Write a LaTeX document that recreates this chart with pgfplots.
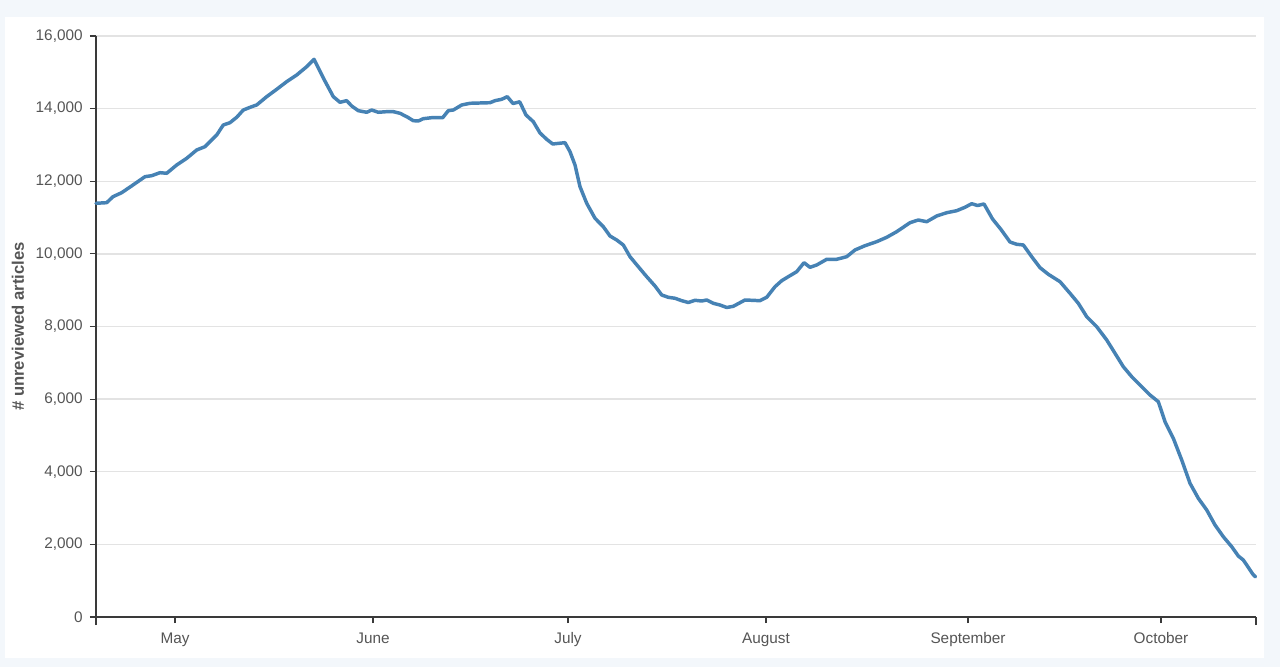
\documentclass[border=0pt]{standalone}
\usepackage{pgfplots}
\pgfplotsset{compat=1.18}
\usepackage{fontspec}
\setmainfont{Liberation Sans}
\definecolor{outerbg}{HTML}{F3F7FB}
\definecolor{linec}{HTML}{4682B4}
\definecolor{axisc}{HTML}{3A3A3A}
\definecolor{textc}{HTML}{555555}
\definecolor{gridc}{HTML}{E3E3E3}
\pgfplotstableread{
x y
96 11393
106.7 11410
113 11575
121.7 11685
133 11897
145 12126
151.7 12153
160 12236
166.7 12219
176.7 12448
186.7 12632
196.7 12861
205 12952
210 13089
216.7 13274
223.3 13549
230 13613
236.7 13761
243.3 13962
251.7 14053
256.7 14100
266.7 14329
276.7 14532
286.7 14742
296.7 14926
306.7 15155
314 15358
323.3 14844
333.3 14329
340 14174
346.7 14219
351.7 14072
358.3 13943
366.7 13899
371.7 13962
378.3 13899
386.7 13916
393.3 13916
400 13871
406.7 13778
413.3 13668
418.3 13659
423.3 13723
431.7 13750
442.7 13750
448.3 13943
453.3 13962
461.7 14100
470 14147
480 14155
490 14163
495 14219
501.7 14257
507.3 14329
513 14141
519.7 14188
526 13825
533.3 13640
540 13329
546.7 13155
552.7 13026
565 13062
570 12814
575 12448
580 11850
586.7 11393
595 10980
603.3 10749
610 10492
616.7 10382
623.3 10245
630 9922
638.3 9647
646.7 9372
655 9115
661.7 8868
668.3 8804
675 8777
681.7 8711
688.3 8661
695 8722
701.7 8702
706.7 8730
713.3 8639
720 8592
726.7 8523
733.3 8556
745 8730
760 8711
766.7 8804
775 9096
781.7 9261
788.3 9372
796.7 9509
804 9757
810 9630
816.7 9694
826.7 9851
836.7 9851
846.7 9922
855 10107
865 10225
876.7 10336
886.7 10456
896.7 10611
910 10859
918.3 10933
926.7 10886
936.7 11043
946.7 11134
956.7 11189
965 11283
971.7 11382
977.5 11332
984 11374
992.5 10961
1001 10671
1010 10327
1016.7 10264
1023.3 10245
1031.7 9922
1040 9620
1048.3 9438
1060 9234
1070 8914
1078.3 8639
1086.7 8270
1096.7 7995
1106.7 7628
1115 7262
1123.3 6893
1131.7 6618
1141.7 6342
1150 6114
1158.3 5929
1165 5378
1173.3 4921
1181.7 4324
1190 3682
1198.3 3269
1206.7 2947
1215 2534
1223.3 2211
1231.7 1936
1238.3 1680
1243.3 1570
1252.7 1184
1255.5 1102
}\datatable
\begin{document}
\begin{tikzpicture}
\path[use as bounding box, fill=outerbg] (-72pt,-37.5pt) rectangle (888pt,462.75pt);
\fill[white] (-68.25pt,-30.75pt) rectangle (876pt,450pt);
\begin{axis}[
  scale only axis,
  width=870pt, height=435.75pt,
  xmin=96, xmax=1256, ymin=0, ymax=16000,
  axis lines*=left,
  axis line style={axisc, line width=1.5pt},
  xtick={175,373,568,766,968,1161},
  xticklabels={May,June,July,August,September,October},
  extra x ticks={96,1256},
  extra x tick labels={},
  extra x tick style={major tick length=6pt},
  ytick={0,2000,...,16000},
  scaled y ticks=false,
  ymajorgrids,
  grid style={gridc, line width=1.1pt},
  tick align=outside,
  major tick length=4.5pt,
  tick style={axisc, line width=0.9pt},
  ticklabel style={font=\fontsize{11.5pt}{13pt}\selectfont, text=textc},
  yticklabel style={xshift=-2pt, /pgf/number format/fixed, /pgf/number format/1000 sep={,}, /pgf/number format/assume math mode=true},
  xticklabel style={anchor=north, text height=8.5pt, text depth=2.5pt, yshift=-3pt},
  ylabel={\# unreviewed articles},
  ylabel style={font=\bfseries\fontsize{12.5pt}{14pt}\selectfont, text=textc,
    at={(axis description cs:-0.0673,0.5)}, anchor=center, rotate=0},
  clip=false,
]
\addplot[linec, line width=2.6pt, line join=round, line cap=round] table[x=x,y=y] {\datatable};
\end{axis}
\end{tikzpicture}
\end{document}
